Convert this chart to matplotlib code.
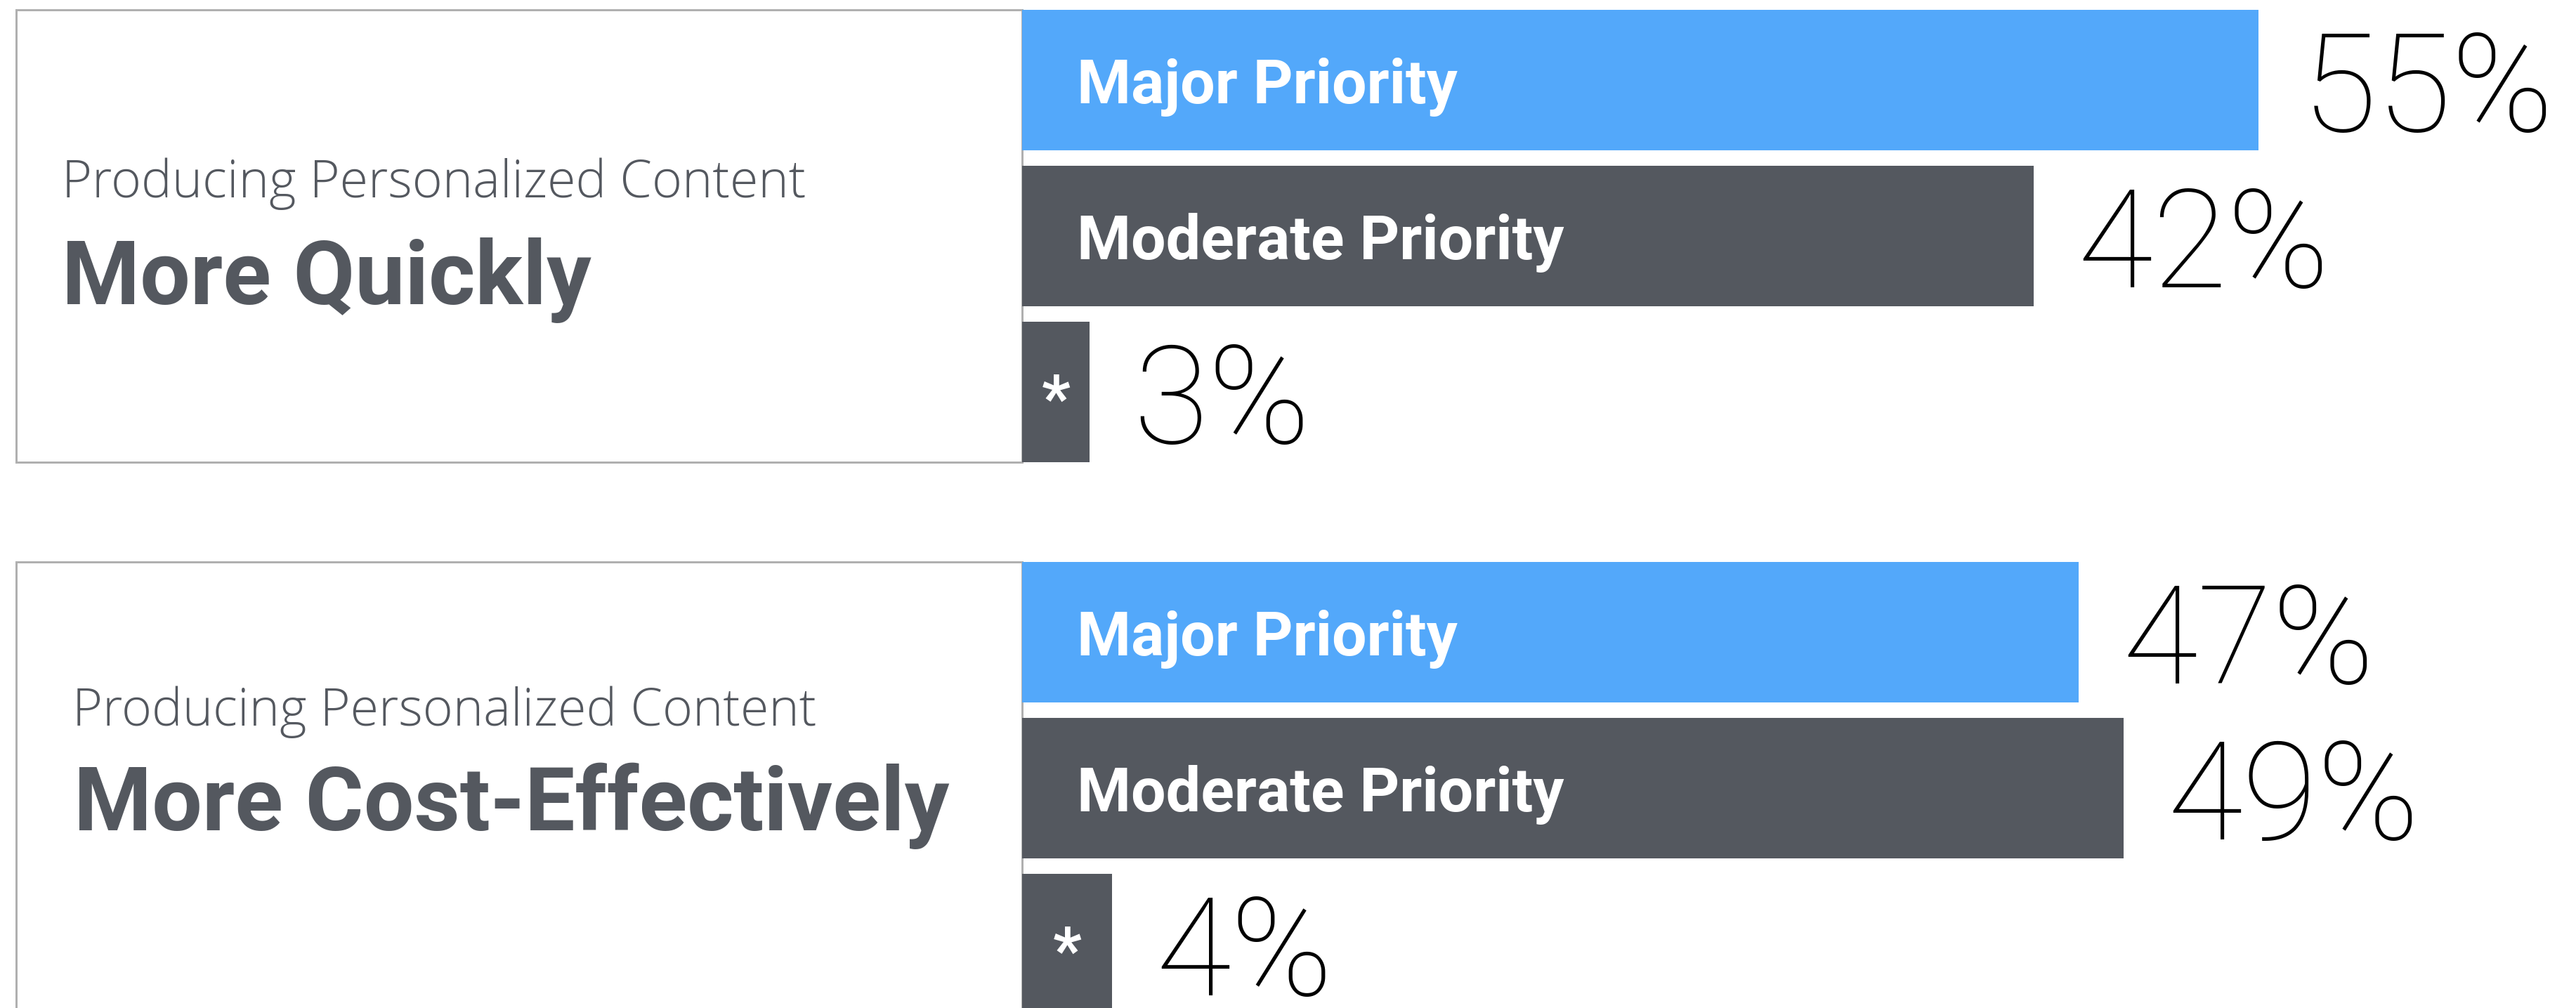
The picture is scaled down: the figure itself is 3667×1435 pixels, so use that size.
import matplotlib.pyplot as plt

W, H = 3667, 1435

subtitles = ["Producing Personalized Content", "Producing Personalized Content"]
titles = ["More Quickly", "More Cost-Effectively"]
bar_names = ["Major Priority", "Moderate Priority", "*"]

# bar lengths as drawn in the picture, and the printed labels
quick_values = [55, 45, 3]
quick_labels = ["55%", "42%", "3%"]
cost_values = [47, 49, 4]
cost_labels = ["47%", "49%", "4%"]

BLUE = "#53a8fa"
GRAY = "#54585f"
BORDER = "#b0b0b0"
bar_colors = [BLUE, GRAY, GRAY]

PX_PER_PCT = 32.0
BAR_LEFT = 1455

# layout per panel, in pixels
panels = [
    dict(top=14, sub=(65, 267), title=(65, 419),
         values=quick_values, labels=quick_labels),
    dict(top=800, sub=(80, 233), title=(82, 382),
         values=cost_values, labels=cost_labels),
]

fig = plt.figure(figsize=(W / 100, H / 100), dpi=100)
fig.patch.set_facecolor("white")


def px_axes(left, top, width, height, **kw):
    return fig.add_axes([left / W, 1 - (top + height) / H, width / W, height / H], **kw)


def pt(px):
    return px * 0.72


for i, p in enumerate(panels):
    top = p["top"]
    box_h = 644
    box = px_axes(23, top, BAR_LEFT - 23, box_h)
    box.set_xticks([])
    box.set_yticks([])
    for s in box.spines.values():
        s.set_color(BORDER)
        s.set_linewidth(pt(3))
    box.set_zorder(0)

    sx, sy = p["sub"]
    box.text(sx / (BAR_LEFT - 23), 1 - sy / box_h, subtitles[i],
             transform=box.transAxes, va="baseline", ha="left",
             fontsize=pt(73.5), family="Open Sans", fontweight=300, color=GRAY)
    tx, ty = p["title"]
    box.text(tx / (BAR_LEFT - 23), 1 - ty / box_h, titles[i],
             transform=box.transAxes, va="baseline", ha="left",
             fontsize=pt(127), family="Roboto", fontweight="bold", color=GRAY)

    ax = px_axes(BAR_LEFT, top, W - BAR_LEFT, box_h)
    ax.set_zorder(1)
    ax.axis("off")
    ypos = list(range(len(bar_names)))
    ax.barh(ypos, p["values"], height=200 / 222, color=bar_colors, left=0)
    ax.set_xlim(0, (W - BAR_LEFT) / PX_PER_PCT)
    ax.set_ylim(2.45, -0.45)

    for j, (name, val, lab) in enumerate(zip(bar_names, p["values"], p["labels"])):
        if name == "*":
            ax.annotate(name, xy=(val / 2, j), xytext=(0, pt(-40)),
                        textcoords="offset points", ha="center", va="baseline",
                        fontsize=pt(90), family="Roboto", fontweight="bold",
                        color="white")
        else:
            ax.annotate(name, xy=(0, j), xytext=(pt(78), pt(-33)),
                        textcoords="offset points", ha="left", va="baseline",
                        fontsize=pt(88), family="Roboto", fontweight="bold",
                        color="white")
        ax.annotate(lab, xy=(val, j), xytext=(pt(62), pt(-73)),
                    textcoords="offset points", ha="left", va="baseline",
                    fontsize=pt(195), family="Roboto", fontweight=100,
                    color="black")

fig.savefig("out.png", dpi=100, facecolor="white")
